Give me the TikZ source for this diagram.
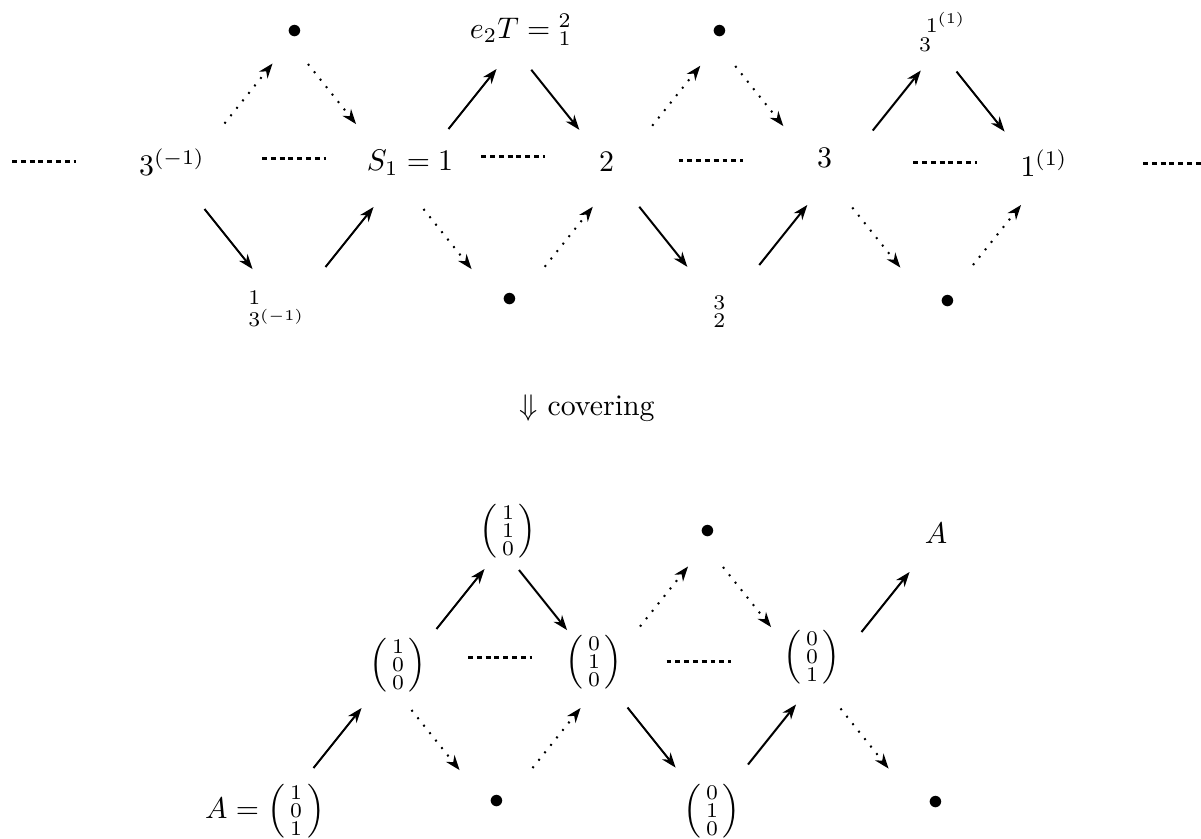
\documentclass[tikz,border=0pt]{standalone}
\usepackage{amsmath}
\usepackage{tikz}
\usetikzlibrary{arrows.meta,calc}
\def\nudgex{0}\def\nudgey{0}
\tikzset{
  vertex/.style={inner sep=1pt},
  nudge/.code 2 args={\def\nudgex{#1}\def\nudgey{#2}},
  quivarrow/.style={-{Stealth[length=5pt,width=3.7pt,line width=0pt]}, line width=0.67pt},
  quivdotted/.style={dash pattern=on 0.65pt off 2.55pt},
  uparr/.style={quivarrow, to path={($(\tikztostart)!.5!(\tikztotarget)+(\nudgex,\nudgey)$) +(-24,30) -- +(24,-30)}},
  downarr/.style={quivarrow, to path={($(\tikztostart)!.5!(\tikztotarget)+(\nudgex,\nudgey)$) +(-24,-30) -- +(24,30)}},
  tauline/.style={line width=1pt, dash pattern=on 1.65pt off 1.3pt,
    to path={($(\tikztostart)!.5!(\tikztotarget)+(\nudgex,\nudgey)$) +(-32,0) -- +(32,0)}}
}
\newcommand{\colvec}[3]{\left(\begin{smallmatrix}#1\\#2\\#3\end{smallmatrix}\right)}

\begin{document}
\begin{tikzpicture}[x=0.335pt, y=-0.335pt]
\useasboundingbox (0,0) rectangle (1201,838);

% upper quiver
\coordinate (lend) at (-84,161);
\node[vertex] (m1) at (172,162) {$3^{(-1)}$};
\node[vertex] (t1) at (295,32) {$\bullet$};
\node[vertex] (b1) at (277,309) {${}^{1}_{3^{(-1)}}$};
\node[vertex] (m2) at (410,163) {$S_1 = 1$};
\node[vertex] (t2) at (521,30) {$e_2T = {}^{2}_{1}$};
\node[vertex] (b2) at (510,300) {$\bullet$};
\node[vertex] (m3) at (606.5,161.5) {$2$};
\node[vertex] (t3) at (720,32) {$\bullet$};
\node[vertex] (b3) at (720,312) {${}^{3}_{2}$};
\node[vertex] (m4) at (824.5,158) {$3$};
\node[vertex] (t4) at (943,32) {${}^{\;1^{(1)}}_{3}$};
\node[vertex] (b4) at (948,302) {$\bullet$};
\node[vertex] (m5) at (1044,163) {$1^{(1)}$};
\coordinate (rend) at (1306,163);

\draw[tauline] (lend) to (m1);
\draw[tauline, nudge={3}{-4}] (m1) to (m2);
\draw[tauline, nudge={5}{-6}] (m2) to (m3);
\draw[tauline, nudge={-5}{1}] (m3) to (m4);
\draw[tauline, nudge={11}{1.5}] (m4) to (m5);
\draw[tauline] (m5) to (rend);

\draw[uparr, quivdotted, nudge={15}{-3.5}] (m1) to (t1);
\draw[downarr, quivdotted, nudge={-20.5}{-3.5}] (t1) to (m2);
\draw[downarr, nudge={4}{3.5}] (m1) to (b1);
\draw[uparr, nudge={6}{1}] (b1) to (m2);
\draw[uparr, nudge={7}{2.5}] (m2) to (t2);
\draw[downarr, nudge={-8.5}{4}] (t2) to (m3);
\draw[downarr, quivdotted, nudge={-12.5}{7.5}] (m2) to (b2);
\draw[uparr, quivdotted, nudge={10.5}{6}] (b2) to (m3);
\draw[uparr, quivdotted, nudge={13}{-1}] (m3) to (t3);
\draw[downarr, quivdotted, nudge={-13}{1}] (t3) to (m4);
\draw[downarr] (m3) to (b3);
\draw[uparr, nudge={11}{0}] (b3) to (m4);
\draw[uparr, nudge={13}{5.5}] (m4) to (t4);
\draw[downarr, nudge={-13}{4}] (t4) to (m5);
\draw[downarr, quivdotted, nudge={-10}{7.5}] (m4) to (b4);
\draw[uparr, quivdotted, nudge={1}{2.5}] (b4) to (m5);

\node[vertex] (cover) at (587,408) {$\Downarrow$ covering};

% covering
\node[vertex] (a0) at (265,811) {$A = \colvec{1}{0}{1}$};
\node[vertex] (n1) at (398,665) {$\colvec{1}{0}{0}$};
\node[vertex] (n2) at (508,531) {$\colvec{1}{1}{0}$};
\node[vertex] (c1) at (497,802) {$\bullet$};
\node[vertex] (n3) at (594,662) {$\colvec{0}{1}{0}$};
\node[vertex] (c2) at (708,532) {$\bullet$};
\node[vertex] (n5) at (712,811) {$\colvec{0}{1}{0}$};
\node[vertex] (n4) at (812,657) {$\colvec{0}{0}{1}$};
\node[vertex] (a1) at (936,533) {$A$};
\node[vertex] (c3) at (936,803) {$\bullet$};

\draw[tauline, nudge={4}{-6}] (n1) to (n3);
\draw[tauline, nudge={-4.5}{1.5}] (n3) to (n4);

\draw[uparr, nudge={6}{0}] (a0) to (n1);
\draw[uparr, nudge={7.5}{1}] (n1) to (n2);
\draw[downarr, nudge={-8}{3.5}] (n2) to (n3);
\draw[downarr, quivdotted, nudge={-12}{6.5}] (n1) to (c1);
\draw[uparr, quivdotted, nudge={11}{6}] (c1) to (n3);
\draw[uparr, quivdotted, nudge={13}{-0.5}] (n3) to (c2);
\draw[downarr, quivdotted, nudge={-13}{2.5}] (c2) to (n4);
\draw[downarr, nudge={-1.5}{1}] (n3) to (n5);
\draw[uparr, nudge={10}{0.5}] (n5) to (n4);
\draw[uparr, nudge={11.5}{7}] (n4) to (a1);
\draw[downarr, quivdotted, nudge={-9.5}{8.5}] (n4) to (c3);
\end{tikzpicture}
\end{document}
